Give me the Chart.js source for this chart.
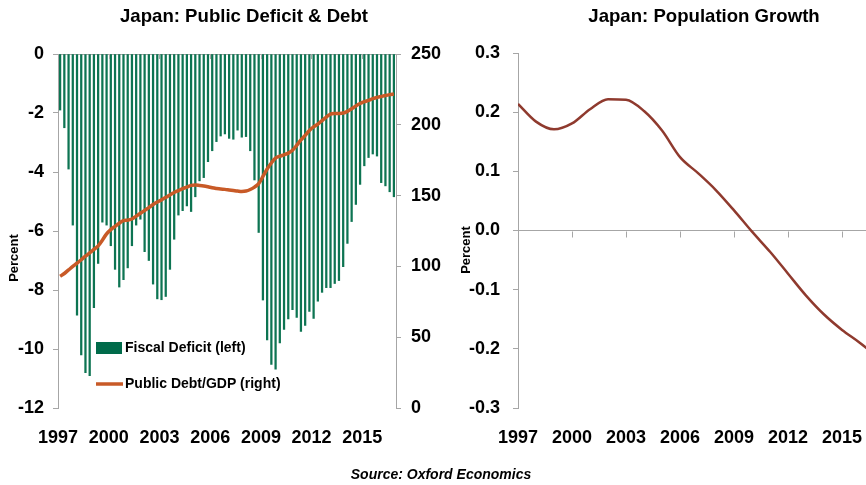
<!DOCTYPE html>
<html>
<head>
<meta charset="utf-8">
<script src="https://cdn.jsdelivr.net/npm/chart.js@4.4.0/dist/chart.umd.min.js"></script>
<style>
  html, body { margin: 0; padding: 0; background: #fff; }
  #wrap { position: relative; width: 866px; height: 485px; overflow: hidden; }
  #left { position: absolute; left: 0; top: 0; }
  #right { position: absolute; left: 440px; top: 0; }
  #source {
    position: absolute; left: 0; top: 466px; width: 882px; text-align: center;
    font: italic bold 14px 'Liberation Sans', Arial, sans-serif;
    color: #000;
  }
</style>
</head>
<body>
<div id="wrap">
  <canvas id="left" width="460" height="485"></canvas>
  <canvas id="right" width="426" height="485"></canvas>
  <div id="source">Source: Oxford Economics</div>
</div>
<script>
// ---- data ----
const firstYear = 1997;
const xTickLabels = ['1997', '2000', '2003', '2006', '2009', '2012', '2015'];

// quarterly fiscal deficit, % of GDP, 1997Q1 .. 2016Q4
const fiscalDeficit = [
  -1.9, -2.5, -3.9, -5.8, -8.85, -10.2, -10.8, -10.9, -8.6, -7.1,
  -5.7, -5.8, -6.5, -7.3, -7.9, -7.65, -7.25, -6.5, -5.8, -5.6,
  -6.7, -7.0, -7.8, -8.3, -8.33, -8.22, -7.3, -6.28, -5.46, -5.31,
  -5.15, -5.34, -4.84, -4.3, -4.19, -3.65, -3.28, -2.97, -2.78, -2.71,
  -2.86, -2.89, -2.58, -2.82, -2.8, -3.28, -4.27, -6.05, -8.34, -9.69,
  -10.52, -10.68, -9.79, -9.34, -8.98, -8.67, -8.93, -9.4, -9.2, -8.73,
  -8.96, -8.38, -8.08, -7.92, -7.92, -7.78, -7.68, -7.21, -6.42, -5.68,
  -5.1, -4.42, -3.79, -3.51, -3.39, -3.46, -4.36, -4.47, -4.67, -4.84
];

// quarterly public debt, % of GDP
const publicDebt = [
  93, 95, 97.5, 100, 102.3, 104.7, 107.2, 109.5, 112, 114.5,
  118.5, 123, 126, 128.3, 130.5, 132.3, 132.7, 133.5, 135.5, 137.5,
  139.5, 141.5, 143.7, 145.5, 147, 148.7, 150.5, 152.2, 153.5, 155,
  156, 157.2, 157.5, 157.2, 156.8, 156.2, 155.5, 155, 154.6, 154.4,
  154, 153.6, 153.2, 152.9, 153.2, 154.3, 156, 158.5, 163.5, 168.8,
  173, 176.5, 177.8, 178.8, 180, 182, 185.5, 189.3, 192.5, 196,
  198.5, 200.5, 203, 205.5, 207.6, 208, 208, 208.3, 209.5, 211.3,
  213.3, 215, 216.3, 217.3, 218.5, 219.3, 220, 220.7, 221.3, 221.8
];

// annual population growth, %
const popYears = [1997, 1998, 1999, 2000, 2001, 2002, 2003, 2004, 2005, 2006,
                  2007, 2008, 2009, 2010, 2011, 2012, 2013, 2014, 2015, 2016, 2017];
const popGrowth = [0.214, 0.184, 0.171, 0.181, 0.205, 0.222, 0.221, 0.202, 0.169, 0.124,
                   0.097, 0.068, 0.034, -0.002, -0.036, -0.073, -0.110, -0.142, -0.168, -0.190, -0.215];

// ---- styles ----
const FONT = "'Liberation Sans', Arial, sans-serif";
const GRAY = '#a6a6a6';
const GREEN = '#0d7452';
const DEBT = '#c85a27';
const POP = '#8f3a2e';
const tickFont = { family: FONT, size: 18, weight: 'bold' };

const quarters = fiscalDeficit.map((_, i) => (firstYear + Math.floor(i / 4)) + 'Q' + (i % 4 + 1));

// gap between plot bottom and the year labels, done with invisible tick marks
// so that Chart.js does not add side padding for it
const labelDrop = { display: true, drawOnChartArea: false, drawTicks: true, tickLength: 19, tickColor: 'rgba(0,0,0,0)' };

function drawText(ctx, text, x, y, font, rotate) {
  ctx.save();
  ctx.font = font;
  ctx.fillStyle = '#000';
  ctx.textAlign = 'center';
  ctx.textBaseline = 'middle';
  ctx.translate(x, y);
  if (rotate) ctx.rotate(-Math.PI / 2);
  ctx.fillText(text, 0, 0);
  ctx.restore();
}

const leftExtras = {
  id: 'leftExtras',
  afterDraw(chart) {
    const ctx = chart.ctx;
    const area = chart.chartArea;
    const x = chart.scales.x;
    const half = (x.getPixelForValue(1) - x.getPixelForValue(0)) / 2;

    // year marks hanging from the zero line
    ctx.save();
    ctx.strokeStyle = GRAY;
    ctx.lineWidth = 1;
    for (let i = 12; i < fiscalDeficit.length; i += 12) {
      const px = Math.round(x.getPixelForValue(i) - half) + 0.5;
      ctx.beginPath();
      ctx.moveTo(px, area.top);
      ctx.lineTo(px, area.top + 5);
      ctx.stroke();
    }
    ctx.restore();

    drawText(ctx, 'Japan: Public Deficit & Debt', 244, 17, 'bold 18.6px ' + FONT);
    drawText(ctx, 'Percent', 14, 258, 'bold 13px ' + FONT, true);

    // legend
    ctx.save();
    const lx = area.left + 38;
    ctx.fillStyle = '#006b4a';
    ctx.fillRect(lx, 342, 26, 12);
    ctx.strokeStyle = DEBT;
    ctx.lineWidth = 3.5;
    ctx.beginPath();
    ctx.moveTo(lx, 384);
    ctx.lineTo(lx + 27, 384);
    ctx.stroke();
    ctx.fillStyle = '#000';
    ctx.font = 'bold 14px ' + FONT;
    ctx.textAlign = 'left';
    ctx.textBaseline = 'middle';
    ctx.fillText('Fiscal Deficit (left)', lx + 29, 348);
    ctx.fillText('Public Debt/GDP (right)', lx + 29, 384);
    ctx.restore();
  }
};

const rightExtras = {
  id: 'rightExtras',
  afterDraw(chart) {
    const ctx = chart.ctx;
    const x = chart.scales.x;
    const y0 = Math.round(chart.scales.y.getPixelForValue(0)) + 0.5;
    ctx.save();
    ctx.strokeStyle = GRAY;
    ctx.lineWidth = 1;
    x.ticks.forEach(t => {
      if (t.value === firstYear) return;
      const px = Math.round(x.getPixelForValue(t.value)) + 0.5;
      ctx.beginPath();
      ctx.moveTo(px, y0);
      ctx.lineTo(px, y0 + 6);
      ctx.stroke();
    });
    ctx.restore();
    drawText(ctx, 'Japan: Population Growth', 264, 17, 'bold 18.6px ' + FONT);
    drawText(ctx, 'Percent', 26, 250, 'bold 13px ' + FONT, true);
  }
};

new Chart(document.getElementById('left'), {
  data: {
    labels: quarters,
    datasets: [
      {
        type: 'line', label: 'Public Debt/GDP (right)', data: publicDebt, yAxisID: 'y1',
        borderColor: DEBT, borderWidth: 3.5, pointRadius: 0, tension: 0.35, order: 0
      },
      {
        type: 'bar', label: 'Fiscal Deficit (left)', data: fiscalDeficit, yAxisID: 'y',
        backgroundColor: GREEN, barThickness: 1.6, order: 1
      }
    ]
  },
  options: {
    responsive: false,
    animation: false,
    devicePixelRatio: 1,
    layout: { padding: { top: 54, left: 0, right: 0, bottom: 0 } },
    plugins: { legend: { display: false }, tooltip: { enabled: false } },
    scales: {
      x: {
        grid: labelDrop,
        border: { display: false },
        ticks: {
          autoSkip: false, maxRotation: 0, padding: 0, labelOffset: -2,
          font: tickFont, color: '#000',
          callback: (v, i) => (i % 12 === 0 ? xTickLabels[i / 12] : null)
        },
        afterFit: s => { s.height = 77; }
      },
      y: {
        position: 'left', min: -12, max: 0,
        ticks: { stepSize: 2, font: tickFont, color: '#000', padding: 9 },
        grid: {
          color: c => (c.tick && c.tick.value === 0 ? GRAY : 'rgba(0,0,0,0)'),
          tickColor: GRAY, tickLength: 5
        },
        border: { color: GRAY },
        afterFit: s => { s.width = 58; }
      },
      y1: {
        position: 'right', min: 0, max: 250,
        ticks: { stepSize: 50, font: tickFont, color: '#000', padding: 10 },
        grid: { drawOnChartArea: false, tickColor: GRAY, tickLength: 5 },
        border: { color: GRAY },
        afterFit: s => { s.width = 64; }
      }
    }
  },
  plugins: [leftExtras]
});

new Chart(document.getElementById('right'), {
  type: 'line',
  data: {
    datasets: [{
      label: 'Population Growth',
      data: popYears.map((yr, i) => ({ x: yr, y: popGrowth[i] })),
      borderColor: POP, borderWidth: 2.5, pointRadius: 0,
      cubicInterpolationMode: 'monotone'
    }]
  },
  options: {
    responsive: false,
    animation: false,
    devicePixelRatio: 1,
    layout: { padding: { top: 53, left: 0, right: 0, bottom: 0 } },
    plugins: { legend: { display: false }, tooltip: { enabled: false } },
    scales: {
      x: {
        type: 'linear', min: 1997, max: 2016.33,
        afterBuildTicks: s => { s.ticks = xTickLabels.map(t => ({ value: +t })); },
        grid: labelDrop,
        border: { display: false },
        ticks: {
          autoSkip: false, maxRotation: 0, padding: 0,
          font: tickFont, color: '#000', callback: v => String(v)
        },
        afterFit: s => { s.height = 77; }
      },
      y: {
        min: -0.3, max: 0.3,
        ticks: {
          stepSize: 0.1, font: tickFont, color: '#000', padding: 13,
          callback: v => (Math.abs(v) < 1e-9 ? '0.0' : v.toFixed(1))
        },
        grid: {
          color: c => (c.tick && Math.abs(c.tick.value) < 1e-9 ? GRAY : 'rgba(0,0,0,0)'),
          tickColor: GRAY, tickLength: 5
        },
        border: { color: GRAY },
        afterFit: s => { s.width = 78; }
      }
    }
  },
  plugins: [rightExtras]
});
</script>
</body>
</html>
